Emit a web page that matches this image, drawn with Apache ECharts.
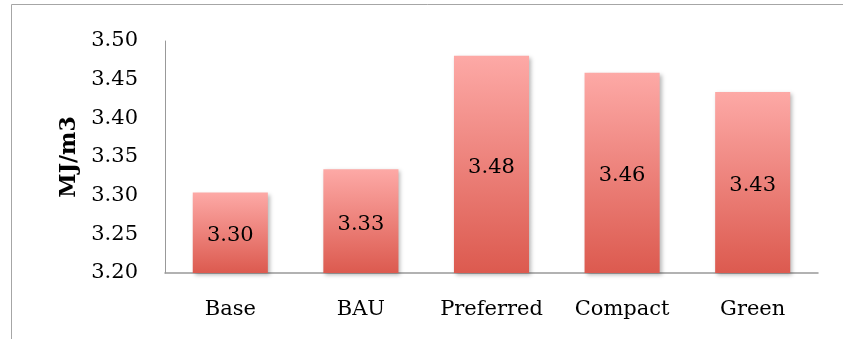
<!DOCTYPE html>
<html>
<head>
<meta charset="utf-8">
<script src="https://cdn.jsdelivr.net/npm/echarts@6/dist/echarts.min.js"></script>
<style>
  html, body { margin: 0; padding: 0; background: #fff; }
  #chart { width: 843px; height: 339px; }
</style>
</head>
<body>
<div id="chart"></div>
<script>
// Energy intensity by scenario
const categories = ['Base', 'BAU', 'Preferred', 'Compact', 'Green'];
const values = [3.304, 3.334, 3.481, 3.459, 3.434];
const yTicks = { min: 3.20, max: 3.50, interval: 0.05 };
const yName = 'MJ/m3';

const FONT = '"DejaVu Serif", serif';

const chart = echarts.init(document.getElementById('chart'), null, { renderer: 'canvas' });

chart.setOption({
  animation: false,
  backgroundColor: '#fff',
  graphic: [{
    type: 'rect',
    shape: { x: 11.5, y: 4.5, width: 900, height: 400 },
    style: { fill: 'none', stroke: '#a6a6a6', lineWidth: 1 },
    silent: true
  }],
  grid: { left: 165, right: 25, top: 41, bottom: 66 },
  xAxis: {
    type: 'category',
    data: categories,
    axisLine: { lineStyle: { color: '#999', width: 1.5 } },
    axisTick: { show: false },
    axisLabel: { interval: 0, color: '#000', fontFamily: FONT, fontSize: 21, margin: 26 }
  },
  yAxis: {
    type: 'value',
    min: yTicks.min,
    max: yTicks.max,
    interval: yTicks.interval,
    name: yName,
    nameLocation: 'middle',
    nameGap: 77,
    nameTextStyle: { color: '#000', fontFamily: FONT, fontSize: 22, fontWeight: 'bold' },
    axisLine: { show: true, lineStyle: { color: '#999', width: 1 } },
    axisTick: { show: false },
    splitLine: { show: false },
    axisLabel: {
      color: '#000', fontFamily: FONT, fontSize: 21, margin: 27,
      formatter: v => v.toFixed(2)
    }
  },
  series: [{
    type: 'bar',
    data: values,
    barWidth: '57.5%',
    itemStyle: {
      color: new echarts.graphic.LinearGradient(0, 0, 0, 1, [
        { offset: 0, color: '#fda9a6' },
        { offset: 1, color: '#dc5a4f' }
      ]),
      shadowColor: 'rgba(0,0,0,0.28)',
      shadowBlur: 4,
      shadowOffsetX: 2,
      shadowOffsetY: 2
    },
    label: {
      show: true,
      position: 'inside',
      offset: [0, 3],
      color: '#000',
      fontFamily: FONT,
      fontSize: 21,
      formatter: p => p.value.toFixed(2)
    }
  }]
});
</script>
</body>
</html>
